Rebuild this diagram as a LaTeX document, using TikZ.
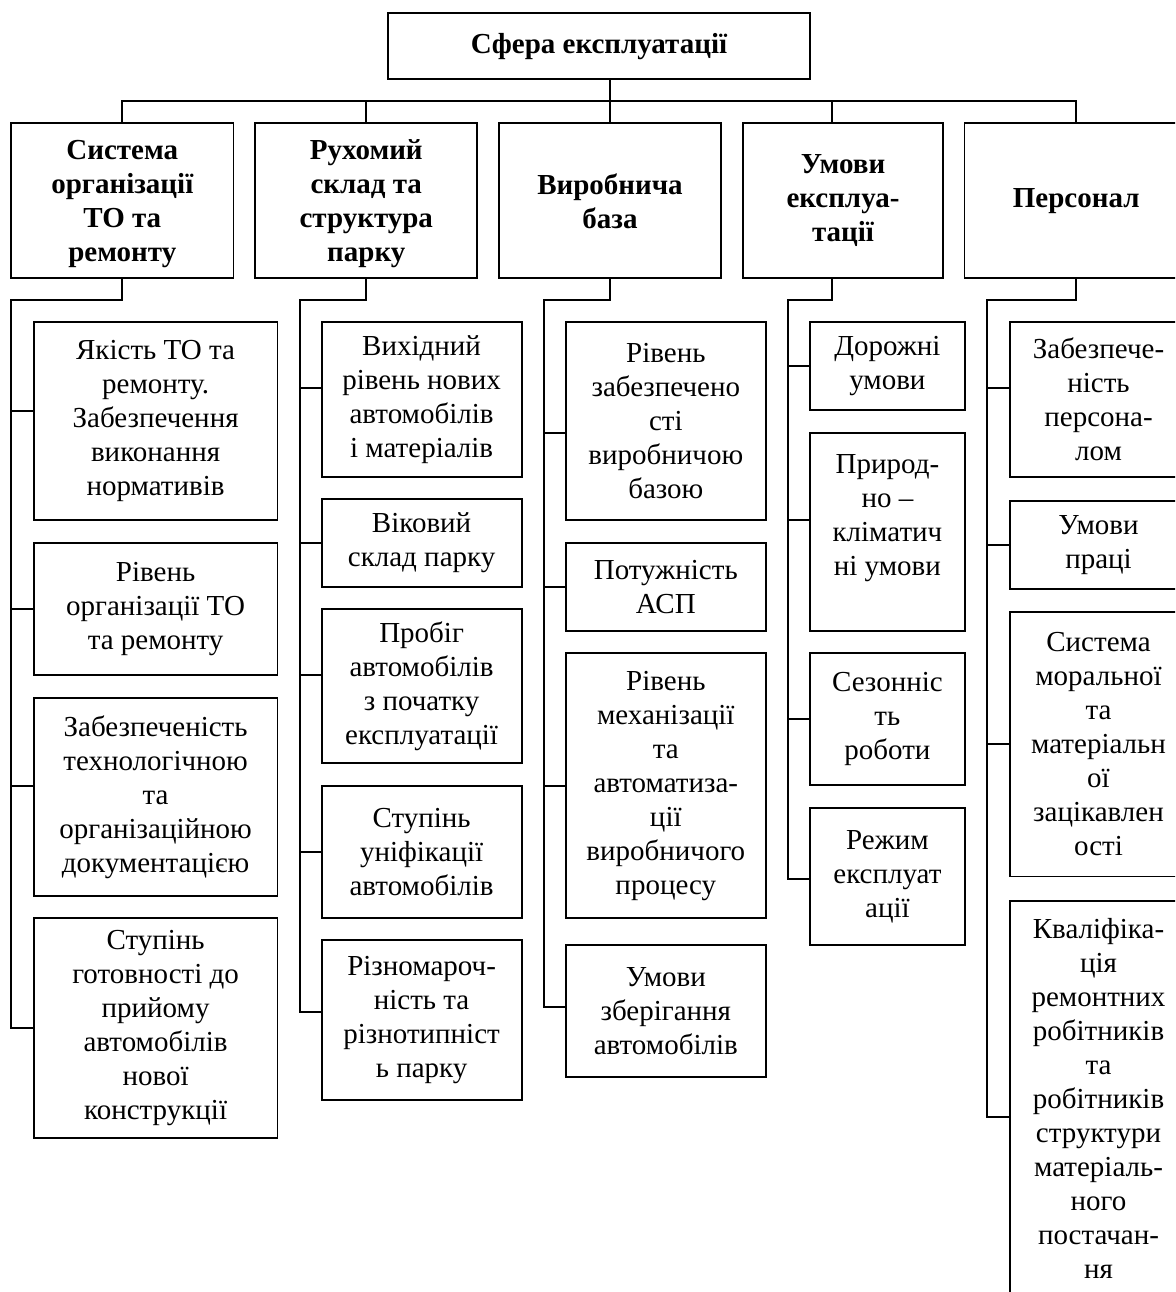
\documentclass[tikz,border=0pt]{standalone}
\usepackage{fontspec}
\setmainfont{Liberation Serif}
\begin{document}
\begin{tikzpicture}[x=1pt,y=-1pt]
\tikzset{
  bx/.style={draw, line width=1.9pt, inner sep=0pt, align=center,
    font=\fontsize{29}{34}\selectfont},
  hd/.style={bx, font=\fontsize{29}{34}\selectfont\bfseries},
  ln/.style={line width=1.9pt},
}
\useasboundingbox (0,0) rectangle (1175,1292);
\clip (0,0) rectangle (1175,1292);
% top
\node[hd, minimum width=422pt, minimum height=66pt] (top) at (599,46.3) {Сфера експлуатації};
% level 1
\node[hd, minimum width=222.3pt, minimum height=155pt] (b1) at (122.3,200.8) {\\[-8pt]Система\\організації\\ТО та\\ремонту};
\node[hd, minimum width=221.9pt, minimum height=155pt] (b2) at (366.3,200.8) {\\[-8pt]Рухомий\\склад та\\структура\\парку};
\node[hd, minimum width=222.5pt, minimum height=155pt] (b3) at (610,200.8) {Виробнича\\база};
\node[hd, minimum width=199.4pt, minimum height=155pt] (b4) at (843,200.8) {Умови\\експлуа-\\тації};
\node[hd, minimum width=223.5pt, minimum height=155pt] (b5) at (1076.2,200.8) {Персонал};
% column 1
\node[bx, minimum width=243.8pt, minimum height=197.7pt] (c1a) at (155.6,421.2) {Якість ТО та\\ремонту.\\Забезпечення\\виконання\\нормативів};
\node[bx, minimum width=243.8pt, minimum height=131.7pt] (c1b) at (155.6,609.2) {Рівень\\організації ТО\\та ремонту};
\node[bx, minimum width=243.8pt, minimum height=198.3pt] (c1c) at (155.6,796.9) {Забезпеченість\\технологічною\\та\\організаційною\\документацією};
\node[bx, minimum width=243.8pt, minimum height=220.6pt] (c1d) at (155.6,1028) {Ступінь\\готовності до\\прийому\\автомобілів\\нової\\конструкції};
% column 2
\node[bx, minimum width=200.1pt, minimum height=154.4pt] (c2a) at (421.6,399.5) {Вихідний\\рівень нових\\автомобілів\\і матеріалів};
\node[bx, minimum width=200.1pt, minimum height=87.7pt] (c2b) at (421.6,542.9) {Віковий\\склад парку};
\node[bx, minimum width=200.1pt, minimum height=154pt] (c2c) at (421.6,686.3) {Пробіг\\автомобілів\\з початку\\експлуатації};
\node[bx, minimum width=200.1pt, minimum height=132.6pt] (c2d) at (421.6,852) {Ступінь\\уніфікації\\автомобілів};
\node[bx, minimum width=200.1pt, minimum height=160pt] (c2e) at (421.6,1020) {Різномароч-\\ність та\\різнотипніст\\ь парку};
% column 3
\node[bx, minimum width=200.4pt, minimum height=197.7pt] (c3a) at (665.8,421.2) {Рівень\\забезпечено\\сті\\виробничою\\базою};
\node[bx, minimum width=200.4pt, minimum height=87.7pt] (c3b) at (665.8,587.2) {Потужність\\АСП};
\node[bx, minimum width=200.4pt, minimum height=264.7pt] (c3c) at (665.8,785.7) {Рівень\\механізації\\та\\автоматиза-\\ції\\виробничого\\процесу};
\node[bx, minimum width=200.4pt, minimum height=131.6pt] (c3d) at (665.8,1011.2) {Умови\\зберігання\\автомобілів};
% column 4
\node[bx, minimum width=155.6pt, minimum height=87.7pt] (c4a) at (887.4,366.2) {Дорожні\\умови};
\node[bx, minimum width=155.6pt, minimum height=198.3pt] (c4b) at (887.4,531.9) {Природ-\\но –\\кліматич\\ні умови\\~};
\node[bx, minimum width=155.6pt, minimum height=131.7pt] (c4c) at (887.4,719.2) {Сезонніс\\ть\\роботи};
\node[bx, minimum width=155.6pt, minimum height=137pt] (c4d) at (887.4,876.5) {Режим\\експлуат\\ації};
% column 5
\node[bx, minimum width=177pt, minimum height=154.4pt] (c5a) at (1098.5,399.5) {Забезпече-\\ність\\персона-\\лом};
\node[bx, minimum width=177pt, minimum height=88.3pt] (c5b) at (1098.5,545.2) {Умови\\праці};
\node[bx, minimum width=177pt, minimum height=264.1pt] (c5c) at (1098.5,744.4) {Система\\моральної\\та\\матеріальн\\ої\\зацікавлен\\ості};
\node[bx, minimum width=177pt, minimum height=394pt] (c5d) at (1098.5,1098) {Кваліфіка-\\ція\\ремонтних\\робітників\\та\\робітників\\структури\\матеріаль-\\ного\\постачан-\\ня};
% top connectors
\coordinate (bus) at (0,101);
\coordinate (sub) at (0,300);
\coordinate (sp1) at (11.1,0);
\coordinate (sp2) at (299.7,0);
\coordinate (sp3) at (544,0);
\coordinate (sp4) at (787.7,0);
\coordinate (sp5) at (987.2,0);
\draw[ln] (top.south -| b3.north) -- (b3.north);
\draw[ln] (b1.north) |- (bus -| b5.north) -- (b5.north);
\draw[ln] (b2.north) -- (b2.north |- bus);
\draw[ln] ([xshift=-11pt]b4.north) -- ([xshift=-11pt]b4.north |- bus);
% column 1
\draw[ln] (b1.south) |- (sub -| sp1) |- (c1d.west);
\draw[ln] ([yshift=10.5pt]c1a.west) -- ([yshift=10.5pt]c1a.west -| sp1);
\draw[ln] (c1b.west) -- (c1b.west -| sp1);
\draw[ln] ([yshift=10.9pt]c1c.west) -- ([yshift=10.9pt]c1c.west -| sp1);
% column 2
\draw[ln] (b2.south) |- (sub -| sp2) |- ([yshift=8.3pt]c2e.west);
\draw[ln] ([yshift=11.2pt]c2a.west) -- ([yshift=11.2pt]c2a.west -| sp2);
\draw[ln] (c2b.west) -- (c2b.west -| sp2);
\draw[ln] ([yshift=11.3pt]c2c.west) -- ([yshift=11.3pt]c2c.west -| sp2);
\draw[ln] (c2d.west) -- (c2d.west -| sp2);
% column 3
\draw[ln] (b3.south) |- (sub -| sp3) |- ([yshift=4.5pt]c3d.west);
\draw[ln] ([yshift=-11.5pt]c3a.west) -- ([yshift=-11.5pt]c3a.west -| sp3);
\draw[ln] (c3b.west) -- (c3b.west -| sp3);
\draw[ln] (c3c.west) -- (c3c.west -| sp3);
% column 4
\draw[ln] ([xshift=-11pt]b4.south) |- (sub -| sp4) |- ([yshift=-2.4pt]c4d.west);
\draw[ln] (c4a.west) -- (c4a.west -| sp4);
\draw[ln] ([yshift=11.9pt]c4b.west) -- ([yshift=11.9pt]c4b.west -| sp4);
\draw[ln] (c4c.west) -- (c4c.west -| sp4);
% column 5
\draw[ln] (b5.south) |- (sub -| sp5) |- ([yshift=-18.7pt]c5d.west);
\draw[ln] ([yshift=11.2pt]c5a.west) -- ([yshift=11.2pt]c5a.west -| sp5);
\draw[ln] (c5b.west) -- (c5b.west -| sp5);
\draw[ln] (c5c.west) -- (c5c.west -| sp5);
\end{tikzpicture}
\end{document}
